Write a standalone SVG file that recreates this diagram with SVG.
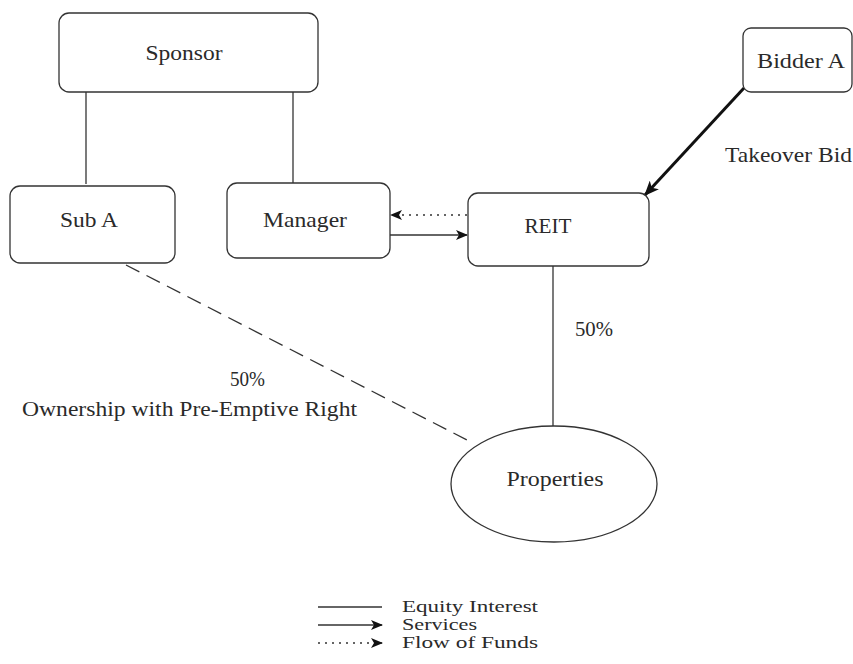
<svg xmlns="http://www.w3.org/2000/svg" width="853" height="664" viewBox="0 0 853 664">
<defs>
<style>
.box{fill:#fff;stroke:#333;stroke-width:1.3}
.t{font-family:"Liberation Serif","Times New Roman",serif;font-size:21px;fill:#2a2a2a}
.lg{font-size:16px}
.c{text-anchor:middle}
.ln{stroke:#333;stroke-width:1.3;fill:none}
</style>
<marker id="ah" viewBox="0 0 12 10" refX="11" refY="5" markerWidth="12" markerHeight="10" markerUnits="userSpaceOnUse" orient="auto">
<path d="M0,0 L12,5 L0,10 L3,5 Z" fill="#111"/>
</marker>
<marker id="ahb" viewBox="0 0 12 10" refX="11" refY="5" markerWidth="5" markerHeight="4.2" orient="auto">
<path d="M0,0 L12,5 L0,10 L3,5 Z" fill="#111"/>
</marker>
</defs>
<g id="connectors">
<line class="ln" x1="86" y1="92" x2="86" y2="184"/>
<line class="ln" x1="293" y1="92" x2="293" y2="184"/>
<line class="ln" x1="467" y1="215" x2="391" y2="215" stroke-dasharray="2,5" stroke-width="2" marker-end="url(#ah)"/>
<line class="ln" x1="390" y1="235" x2="467" y2="235" marker-end="url(#ah)"/>
<line x1="744" y1="88" x2="645" y2="195" stroke="#111" stroke-width="3" marker-end="url(#ahb)"/>
<line class="ln" x1="553" y1="266" x2="553" y2="426"/>
<line class="ln" x1="126" y1="265" x2="471" y2="442" stroke-dasharray="15,8"/>
</g>
<g id="sponsor"><rect class="box" x="59" y="13" width="259" height="79" rx="10"/><text class="t c" x="184" y="60" textLength="77" lengthAdjust="spacingAndGlyphs">Sponsor</text></g>
<g id="subA"><rect class="box" x="10" y="186" width="165" height="77" rx="10"/><text class="t c" x="89" y="227" textLength="58" lengthAdjust="spacingAndGlyphs">Sub A</text></g>
<g id="manager"><rect class="box" x="227" y="183" width="163" height="75" rx="10"/><text class="t c" x="305" y="227" textLength="84" lengthAdjust="spacingAndGlyphs">Manager</text></g>
<g id="reit"><rect class="box" x="468" y="193" width="181" height="73" rx="10"/><text class="t c" x="548" y="233" textLength="47" lengthAdjust="spacingAndGlyphs">REIT</text></g>
<g id="bidderA"><rect class="box" x="743" y="28" width="109" height="64" rx="8"/><text class="t c" x="801" y="68" textLength="88" lengthAdjust="spacingAndGlyphs">Bidder A</text></g>
<g id="properties"><ellipse class="box" cx="554" cy="484" rx="103" ry="58"/><text class="t c" x="555" y="486" textLength="97" lengthAdjust="spacingAndGlyphs">Properties</text></g>
<g id="labels">
<text class="t" x="725" y="162" textLength="127" lengthAdjust="spacingAndGlyphs">Takeover Bid</text>
<text class="t c" x="594" y="336" textLength="38" lengthAdjust="spacingAndGlyphs">50%</text>
<text class="t c" x="247.5" y="386" textLength="35" lengthAdjust="spacingAndGlyphs">50%</text>
<text class="t" x="22" y="416" textLength="335" lengthAdjust="spacingAndGlyphs">Ownership with Pre-Emptive Right</text>
</g>
<g id="legend">
<line class="ln" x1="318" y1="607" x2="382" y2="607"/>
<line class="ln" x1="318" y1="625" x2="382" y2="625" marker-end="url(#ah)"/>
<line class="ln" x1="318" y1="643" x2="382" y2="643" stroke-dasharray="2,5" stroke-width="2" marker-end="url(#ah)"/>
<text class="t lg" x="402" y="612" textLength="136" lengthAdjust="spacingAndGlyphs">Equity Interest</text>
<text class="t lg" x="402" y="630" textLength="75" lengthAdjust="spacingAndGlyphs">Services</text>
<text class="t lg" x="402" y="648" textLength="136" lengthAdjust="spacingAndGlyphs">Flow of Funds</text>
</g>
</svg>
